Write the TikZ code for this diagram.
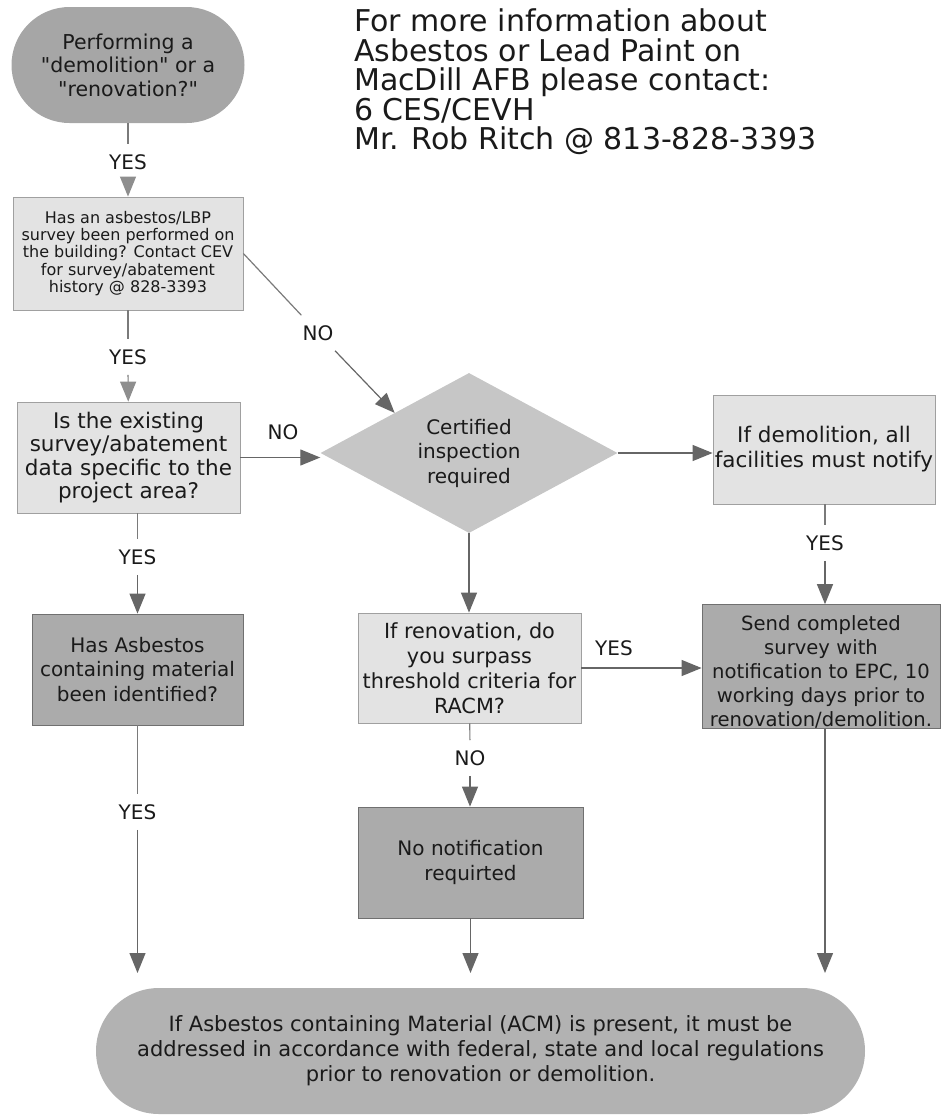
\documentclass[tikz,border=0pt]{standalone}
\usepackage{fontspec}
\setmainfont{DejaVu Sans}[Ligatures=TeXOff]
\usetikzlibrary{shapes.geometric,arrows.meta}
\definecolor{startfill}{HTML}{A6A6A6}
\definecolor{lightfill}{HTML}{E3E3E3}
\definecolor{lightdraw}{HTML}{A0A0A0}
\definecolor{darkfill}{HTML}{ABABAB}
\definecolor{darkdraw}{HTML}{707070}
\definecolor{diafill}{HTML}{C6C6C6}
\definecolor{endfill}{HTML}{B2B2B2}
\definecolor{linecol}{HTML}{7A7A7A}
\definecolor{tipcol}{HTML}{666666}
\definecolor{paletip}{HTML}{8E8E8E}
\definecolor{txtcol}{HTML}{1A1A1A}
\begin{document}
\begin{tikzpicture}[x=1pt,y=-1pt,
  txt/.style={font=\fontsize{20}{24.5}\selectfont, text=txtcol, align=center, inner sep=0pt},
  lightbox/.style={txt, rectangle, draw=lightdraw, line width=0.8pt, fill=lightfill},
  darkbox/.style={txt, rectangle, draw=darkdraw, line width=0.8pt, fill=darkfill},
  lbl/.style={font=\fontsize{20}{20}\selectfont, text=txtcol, inner xsep=3pt, inner ysep=10pt},
  conn/.style={draw=linecol, line width=1.2pt},
  arr/.style={conn, -{Triangle[width=16pt,length=20pt]}, tipcol},
  palearr/.style={conn, -{Triangle[width=16pt,length=20pt,color=paletip]}}
]
\useasboundingbox (0,0) rectangle (942,1117);

% title
\node[font=\fontsize{30}{29.5}\selectfont, text=txtcol, align=left, anchor=north west, inner sep=0pt] (title) at (354,9)
  {For more information about\\Asbestos or Lead Paint on\\MacDill AFB please contact:\\6 CES/CEVH\\Mr. Rob Ritch @ 813-828-3393};

% nodes
\node[txt, font=\fontsize{20.5}{23.5}\selectfont, fill=startfill, rectangle, rounded corners=58pt,
      minimum width=233pt, minimum height=116pt] (start) at (128,65)
  {Performing a\\"demolition" or a\\"renovation?"};
\node[lightbox, font=\fontsize{16}{17.3}\selectfont, minimum width=230pt, minimum height=113pt] (survey) at (128,253.5)
  {Has an asbestos/LBP\\survey been performed on\\the building? Contact CEV\\for survey/abatement\\history @ 828-3393};
\node[lightbox, font=\fontsize{21.5}{23.5}\selectfont, minimum width=223pt, minimum height=111pt] (specific) at (128.5,457.5)
  {Is the existing\\survey/abatement\\data specific to the\\project area?};
\node[txt, diamond, aspect=1.86, fill=diafill, minimum width=297pt, minimum height=160pt] (cert) at (469,453)
  {Certified\\inspection\\required};
\node[lightbox, font=\fontsize{21.5}{25}\selectfont, minimum width=222pt, minimum height=109pt] (demo) at (824,449.5)
  {If demolition, all\\facilities must notify};
\node[darkbox, font=\fontsize{19.6}{24}\selectfont, minimum width=238pt, minimum height=123pt] (send) at (821,666.5)
  {\rule{0pt}{26pt}Send completed\\survey with\\notification to EPC, 10\\working days prior to\\renovation/demolition.};
\node[lightbox, font=\fontsize{20.8}{25}\selectfont, minimum width=223pt, minimum height=110pt] (reno) at (469.5,668)
  {If renovation, do\\you surpass\\threshold criteria for\\RACM?};
\node[darkbox, minimum width=225pt, minimum height=111pt] (nonote) at (470.5,862.5)
  {No notification\\requirted};
\node[darkbox, minimum width=211pt, minimum height=111pt] (acm) at (137.5,669.5)
  {Has Asbestos\\containing material\\been identified?};
\node[txt, font=\fontsize{21}{25}\selectfont, fill=endfill, rectangle, rounded corners=63pt,
      minimum width=769pt, minimum height=126pt] (final) at (480.5,1051)
  {If Asbestos containing Material (ACM) is present, it must be\\addressed in accordance with federal, state and local regulations\\prior to renovation or demolition.};

% labels
\node[lbl] (yes1) at (128,162) {YES};
\node[lbl] (yes2) at (128,357) {YES};
\node[lbl] (no1) at (318,333) {NO};
\node[lbl] (no2) at (283,432) {NO};
\node[lbl] (yes3) at (137.5,557) {YES};
\node[lbl] (yes4) at (825,543) {YES};
\node[lbl] (yes5) at (614,648) {YES};
\node[lbl] (no3) at (470,758) {NO};
\node[lbl] (yes6) at (137.5,812) {YES};

% free ends above the final node
\coordinate (e1) at (137.5,973);
\coordinate (e2) at (470.5,973);
\coordinate (e3) at (825,973);

% connectors
\draw[conn] (start) -- (yes1);
\draw[palearr] (yes1) -- (survey);
\draw[conn] (survey) -- (yes2);
\draw[palearr] (yes2) -- (specific);
\draw[conn] (survey.east) -- (no1);
\draw[arr] (no1) -- (cert.north west);
\draw[arr] (specific.east) -- (specific.east -| cert.west);
\draw[conn] (specific.south -| yes3) -- (yes3);
\draw[arr] (yes3) -- (acm);
\draw[arr] (cert.east) -- (cert.east -| demo.west);
\draw[conn] (demo.south -| yes4) -- (yes4);
\draw[arr] (yes4) -- (yes4 |- send.north);
\draw[arr] (cert.south) -- (cert.south |- reno.north);
\draw[arr] (reno.east) -- (reno.east -| send.west);
\draw[conn] (reno) -- (no3);
\draw[arr] (no3) -- (no3 |- nonote.north);
\draw[conn] (acm) -- (yes6);
\draw[arr] (yes6) -- (e1);
\draw[arr] (nonote.south -| e2) -- (e2);
\draw[arr] (send.south -| e3) -- (e3);
\end{tikzpicture}
\end{document}
